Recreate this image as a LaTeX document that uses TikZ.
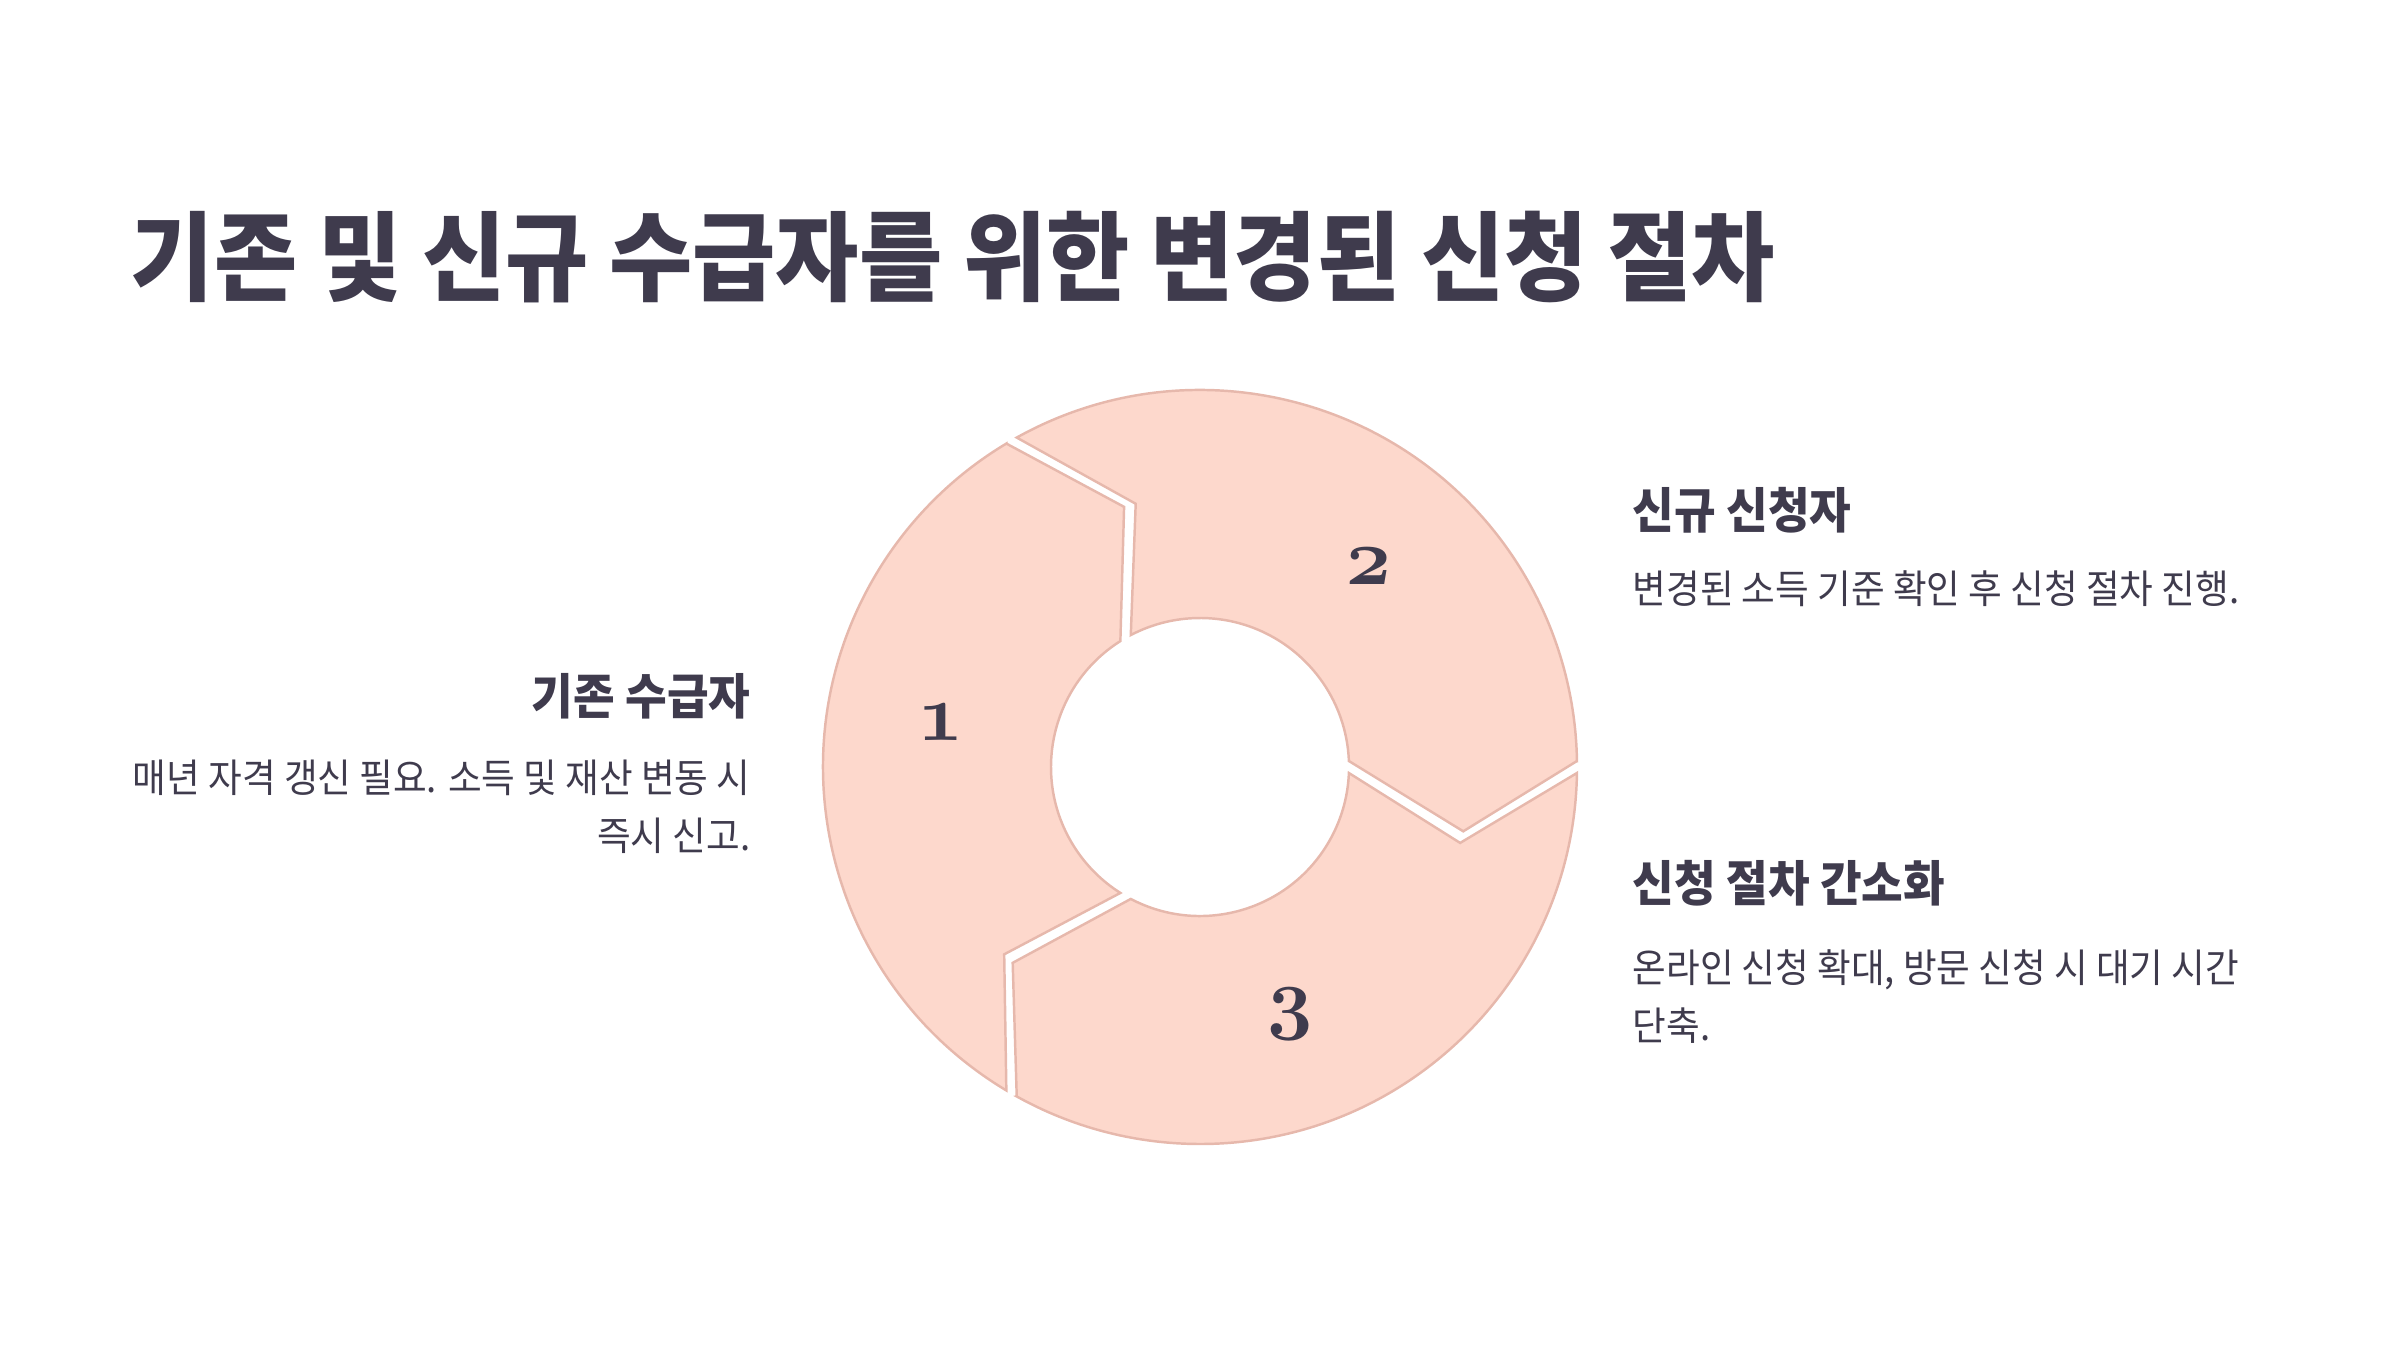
\documentclass[tikz,border=0pt]{standalone}
\usepackage{fontspec}
\setmainfont{Noto Sans CJK KR}[FakeStretch=0.93]
\newfontfamily\numfont{Latin Modern Roman}[Numbers=OldStyle]
\definecolor{ink}{HTML}{3F3B4D}
\definecolor{petal}{HTML}{FDD8CC}
\definecolor{petalline}{HTML}{E6B8AC}
\begin{document}
\begin{tikzpicture}[
  seg/.style={fill=petal, draw=petalline, line width=0.7pt},
  num/.style={font=\numfont\bfseries\fontsize{23}{23}\selectfont, text=ink},
  head/.style={font=\bfseries\fontsize{13.85}{16}\selectfont, text=ink, inner sep=0pt},
  body/.style={font=\fontsize{11.2}{16.5}\selectfont, text=ink, inner sep=0pt}
]
\useasboundingbox (0,0) rectangle (24,13.5);
\coordinate (O) at (12,5.83);
\node[anchor=west, inner sep=0pt, text=ink, font=\bfseries\fontsize{27.7}{30}\selectfont] (title) at (1.30,10.93) {기존 및 신규 수급자를 위한 변경된 신청 절차};
% ring of three arrow segments
\begin{scope}[shift={(O)}]
\draw[seg] (120.91:3.77) -- (106.27:2.71) -- (122.31:1.49) arc[start angle=122.31, end angle=237.69, radius=1.49] -- (223.73:2.71) -- (239.09:3.77) arc[start angle=239.09, end angle=120.91, radius=3.77] -- cycle;
\draw[seg] (0.91:3.77) -- (-13.73:2.71) -- (2.31:1.49) arc[start angle=2.31, end angle=117.69, radius=1.49] -- (103.73:2.71) -- (119.09:3.77) arc[start angle=119.09, end angle=0.91, radius=3.77] -- cycle;
\draw[seg] (240.91:3.77) -- (226.27:2.71) -- (242.31:1.49) arc[start angle=242.31, end angle=357.69, radius=1.49] -- (343.73:2.71) -- (359.09:3.77) arc[start angle=359.09, end angle=240.91, radius=3.77] -- cycle;
\node[num] (n1) at (170:2.63) {1};
\node[num] (n2) at (50:2.63) {2};
\node[num] (n3) at (290:2.63) {3};
\end{scope}
% texts
\node[head, anchor=east] (h1) at (7.51,6.54) {기존 수급자};
\node[body, anchor=north east, align=right] (b1) at (7.51,5.91) {매년 자격 갱신 필요. 소득 및 재산 변동 시\\즉시 신고.};
\node[head, anchor=west] (h2) at (16.32,8.40) {신규 신청자};
\node[body, anchor=west] (b2) at (16.32,7.61) {변경된 소득 기준 확인 후 신청 절차 진행.};
\node[head, anchor=west] (h3) at (16.32,4.67) {신청 절차 간소화};
\node[body, anchor=north west, align=left] (b3) at (16.32,4.01) {온라인 신청 확대, 방문 신청 시 대기 시간\\단축.};
\end{tikzpicture}
\end{document}
